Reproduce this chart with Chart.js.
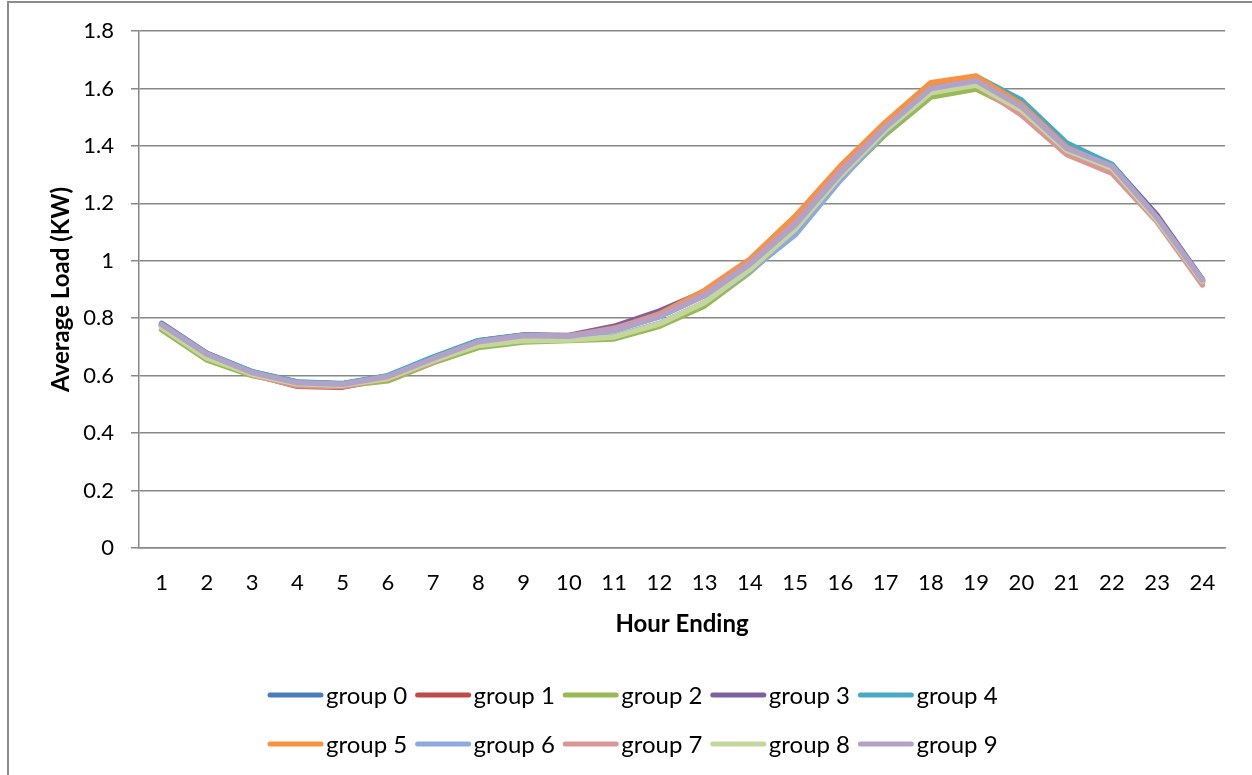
<!DOCTYPE html>
<html>
<head>
<meta charset="utf-8">
<script src="https://cdn.jsdelivr.net/npm/chart.js@4/dist/chart.umd.min.js"></script>
<style>
  html, body { margin: 0; padding: 0; background: #ffffff; }
  #wrap { position: relative; width: 1252px; height: 775px; }
</style>
</head>
<body>
<div id="wrap"><canvas id="c" width="1252" height="775"></canvas></div>
<script>
// Hour-ending categories and average load per group (kW)
const hours = ['1','2','3','4','5','6','7','8','9','10','11','12','13','14','15','16','17','18','19','20','21','22','23','24'];
const groupNames = ['group 0','group 1','group 2','group 3','group 4','group 5','group 6','group 7','group 8','group 9'];

const group0 = [0.780,0.676,0.612,0.576,0.571,0.598,0.662,0.720,0.741,0.738,0.760,0.810,0.882,0.992,1.130,1.310,1.470,1.605,1.630,1.540,1.395,1.330,1.150,0.932];
const group1 = [0.775,0.672,0.605,0.563,0.560,0.590,0.650,0.715,0.738,0.738,0.768,0.818,0.890,0.998,1.140,1.318,1.475,1.610,1.632,1.530,1.380,1.315,1.140,0.925];
const group2 = [0.760,0.655,0.600,0.570,0.565,0.582,0.645,0.698,0.717,0.722,0.728,0.772,0.843,0.960,1.100,1.285,1.440,1.570,1.598,1.520,1.385,1.320,1.140,0.925];
const group3 = [0.782,0.678,0.613,0.577,0.571,0.598,0.663,0.722,0.742,0.740,0.772,0.825,0.893,0.998,1.140,1.320,1.478,1.612,1.638,1.545,1.400,1.335,1.158,0.935];
const group4 = [0.780,0.677,0.614,0.578,0.573,0.600,0.665,0.722,0.741,0.738,0.758,0.806,0.880,0.990,1.128,1.308,1.470,1.610,1.642,1.560,1.410,1.335,1.150,0.933];
const group5 = [0.775,0.670,0.607,0.572,0.566,0.588,0.652,0.712,0.735,0.738,0.762,0.815,0.897,1.005,1.155,1.330,1.483,1.620,1.643,1.545,1.395,1.325,1.145,0.928];
const group6 = [0.772,0.668,0.608,0.574,0.570,0.595,0.657,0.713,0.728,0.727,0.738,0.782,0.855,0.965,1.090,1.280,1.450,1.585,1.615,1.530,1.390,1.325,1.145,0.930];
const group7 = [0.772,0.668,0.603,0.565,0.562,0.590,0.648,0.712,0.738,0.737,0.765,0.812,0.885,0.995,1.135,1.315,1.468,1.590,1.612,1.508,1.370,1.305,1.135,0.916];
const group8 = [0.768,0.662,0.605,0.572,0.567,0.590,0.652,0.705,0.722,0.724,0.735,0.780,0.855,0.970,1.110,1.295,1.455,1.585,1.612,1.525,1.385,1.322,1.142,0.928];
const group9 = [0.778,0.675,0.611,0.575,0.570,0.597,0.660,0.718,0.740,0.737,0.758,0.805,0.878,0.988,1.125,1.305,1.465,1.600,1.627,1.537,1.392,1.330,1.150,0.933];

const yTicks = [0, 0.2, 0.4, 0.6, 0.8, 1, 1.2, 1.4, 1.6, 1.8];

const series = [group0, group1, group2, group3, group4, group5, group6, group7, group8, group9];
const colors = ['#4A7EBB','#BE4B48','#98B954','#7D60A0','#46AAC5','#F69240','#8EAADB','#D99694','#C3D69B','#B3A2C7'];

const FONT = 'Lato, "Open Sans", sans-serif';
const GRID = '#888888';

// Frame around the whole chart
const framePlugin = {
  id: 'frame',
  beforeDraw(chart) {
    const ctx = chart.ctx;
    ctx.save();
    ctx.strokeStyle = '#8c8c8c';
    ctx.lineWidth = 2;
    ctx.strokeRect(8, 2, 1300, 900);
    ctx.restore();
  }
};

// Two-row legend with line swatches, five entries per row
const rowLegend = {
  id: 'rowLegend',
  afterDraw(chart) {
    const ctx = chart.ctx;
    const startX = 268, pitch = 147.6, rowY = [695, 744];
    const swatch = 55;
    ctx.save();
    ctx.font = '24px ' + FONT;
    ctx.textBaseline = 'middle';
    ctx.textAlign = 'left';
    chart.data.datasets.forEach((ds, i) => {
      const row = Math.floor(i / 5), col = i % 5;
      const x = startX + col * pitch, y = rowY[row];
      ctx.strokeStyle = ds.borderColor;
      ctx.lineWidth = 5;
      ctx.lineCap = 'round';
      ctx.beginPath();
      ctx.moveTo(x + 2, y);
      ctx.lineTo(x + swatch - 2, y);
      ctx.stroke();
      ctx.fillStyle = '#000';
      ctx.fillText(ds.label, x + swatch + 3, y + 1);
    });
    ctx.restore();
  }
};

const datasets = series.map((vals, i) => ({
  label: groupNames[i],
  data: vals,
  borderColor: colors[i],
  backgroundColor: colors[i],
  borderWidth: 5.5,
  borderCapStyle: 'round',
  borderJoinStyle: 'round',
  pointRadius: 0,
  pointHoverRadius: 0,
  tension: 0,
  fill: false,
  order: series.length - 1 - i
}));

new Chart(document.getElementById('c'), {
  type: 'line',
  data: { labels: hours, datasets },
  options: {
    responsive: false,
    animation: false,
    events: [],
    layout: { padding: { left: 0, right: 27, top: 31, bottom: 127 } },
    plugins: {
      legend: { display: false },
      tooltip: { enabled: false }
    },
    scales: {
      x: {
        type: 'category',
        offset: true,
        grid: { display: false, drawTicks: false },
        border: { display: true, color: GRID, width: 1.5 },
        ticks: { color: '#000', font: { family: FONT, size: 22 }, padding: 22, maxRotation: 0, autoSkip: false },
        title: { display: true, text: 'Hour Ending', color: '#000', font: { family: FONT, size: 24, weight: 'bold' }, padding: { top: 0, bottom: 9 } },
        afterFit(scale) { scale.height = 100; }
      },
      y: {
        min: 0,
        max: 1.8,
        afterBuildTicks(scale) { scale.ticks = yTicks.map(v => ({ value: v })); },
        grid: { color: GRID, lineWidth: 1.5, tickLength: 8, drawTicks: true },
        border: { display: true, color: GRID, width: 1.5 },
        ticks: {
          color: '#000',
          font: { family: FONT, size: 22 },
          padding: 17,
          callback: (v) => String(Math.round(v * 10) / 10)
        },
        title: { display: true, text: 'Average Load (KW)', color: '#000', font: { family: FONT, size: 24, weight: 'bold' }, padding: { top: 47, bottom: 0 } },
        afterFit(scale) { scale.width = 139; }
      }
    }
  },
  plugins: [framePlugin, rowLegend]
});
</script>
</body>
</html>
